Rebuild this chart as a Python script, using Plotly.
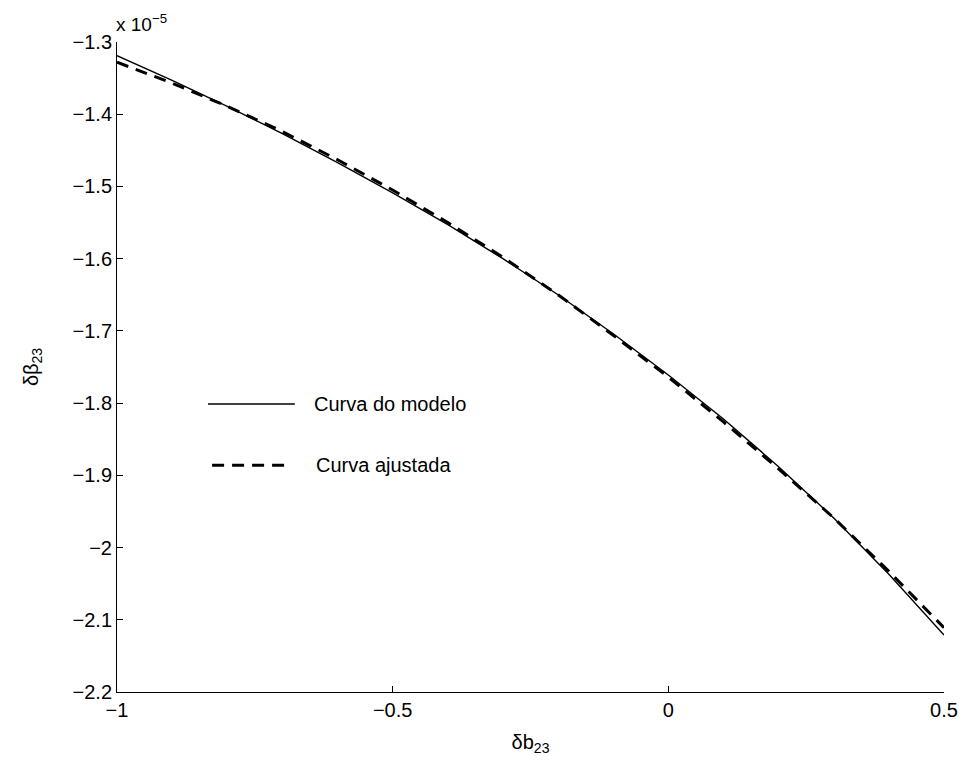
import plotly.graph_objects as go

# delta b23 sample points
db23 = [-1.0, -0.9, -0.8, -0.7, -0.6, -0.5, -0.4, -0.3, -0.2, -0.1,
        0.0, 0.1, 0.2, 0.3, 0.4, 0.5]

# model curve, delta beta23 in units of 1e-5
modelo = [-1.319, -1.353, -1.389, -1.427, -1.467, -1.509, -1.553, -1.600,
          -1.650, -1.704, -1.761, -1.822, -1.888, -1.959, -2.037, -2.121]

# fitted curve, delta beta23 in units of 1e-5
ajustada = [-1.328, -1.357, -1.389, -1.424, -1.463, -1.505, -1.550, -1.598,
            -1.650, -1.706, -1.764, -1.826, -1.891, -1.959, -2.033, -2.111]

x_ticks = [-1, -0.5, 0, 0.5]
x_ticktext = ["\u22121", "\u22120.5", "0", "0.5"]
y_ticks = [-1.3, -1.4, -1.5, -1.6, -1.7, -1.8, -1.9, -2.0, -2.1, -2.2]
y_ticktext = ["\u22121.3", "\u22121.4", "\u22121.5", "\u22121.6", "\u22121.7",
              "\u22121.8", "\u22121.9", "\u22122", "\u22122.1", "\u22122.2"]

FONT = "Liberation Sans, Arial, Helvetica, sans-serif"
FS = 20
DASH = "12px,8px"

fig = go.Figure()
fig.add_trace(go.Scatter(x=db23, y=modelo, mode="lines", name="Curva do modelo",
                         line=dict(color="black", width=1.4), showlegend=False))
fig.add_trace(go.Scatter(x=db23, y=ajustada, mode="lines", name="Curva ajustada",
                         line=dict(color="black", width=3, dash=DASH), showlegend=False))

# hand-placed legend (long line samples, no frame)
legend_items = [("Curva do modelo", 0.443, 0.110, 0.215, 0.236, 1.4, "solid"),
                ("Curva ajustada", 0.349, 0.115, 0.210, 0.238, 3, DASH)]
for text, yp, x0, x1, xt, w, d in legend_items:
    fig.add_shape(type="line", xref="paper", yref="paper", x0=x0, x1=x1, y0=yp, y1=yp,
                  line=dict(color="black", width=w, dash=d))
    fig.add_annotation(xref="paper", yref="paper", x=xt, y=yp, text=text,
                       showarrow=False, xanchor="left", yanchor="middle",
                       font=dict(family=FONT, size=FS, color="black"))

# exponent label for the y axis
fig.add_annotation(xref="paper", yref="paper", x=-0.004, y=1.0, yshift=5,
                   text="x 10<sup>\u22125</sup>",
                   showarrow=False, xanchor="left", yanchor="bottom",
                   font=dict(family=FONT, size=FS - 1, color="black"))

axis_common = dict(showgrid=False, zeroline=False, showline=True, linecolor="black",
                   linewidth=1, ticks="inside", ticklen=6, tickcolor="black",
                   tickfont=dict(family=FONT, size=FS, color="black"), mirror=False,
                   automargin=False)

fig.update_xaxes(range=[-1, 0.5], tickvals=x_ticks, ticktext=x_ticktext,
                 title=dict(text="\u03b4b<sub>23</sub>", standoff=14,
                            font=dict(family=FONT, size=FS, color="black")),
                 **axis_common)
fig.update_yaxes(range=[-2.2, -1.3], tickvals=y_ticks, ticktext=y_ticktext,
                 title=dict(text="\u03b4\u03b2<sub>23</sub>", standoff=28,
                            font=dict(family=FONT, size=FS, color="black")),
                 **axis_common)

fig.update_layout(width=964, height=765, plot_bgcolor="white", paper_bgcolor="white",
                  margin=dict(l=117, r=20, t=42, b=73), showlegend=False,
                  font=dict(family=FONT, color="black"))

fig.write_html("out.html")
